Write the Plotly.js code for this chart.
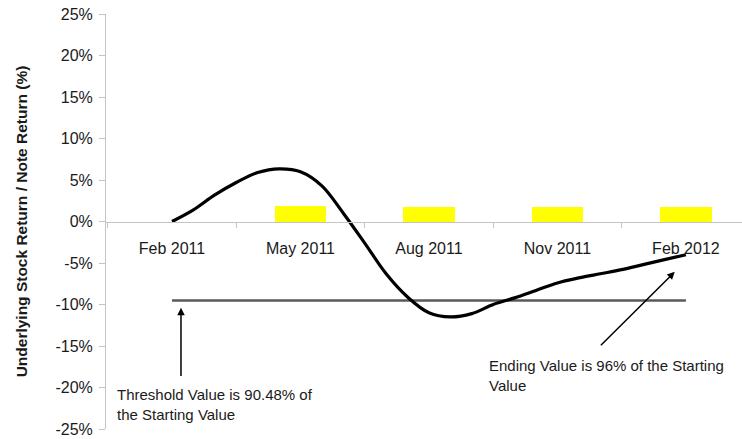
<!DOCTYPE html>
<html>
<head>
<meta charset="utf-8">
<script src="https://cdn.plot.ly/plotly-3.0.1.min.js"></script>
<style>html,body{margin:0;padding:0;background:#fff;}#chart{width:742px;height:439px;}</style>
</head>
<body>
<div id="chart"></div>
<script>
// Months since Feb 2011 (0 = Feb 2011, 12 = Feb 2012)
const categoryLabels = ["Feb 2011", "May 2011", "Aug 2011", "Nov 2011", "Feb 2012"];
const categoryMonths = [0, 3, 6, 9, 12];
const tickMarkMonths = [-1.5, 1.5, 4.5, 7.5, 10.5];

// Underlying stock return path (%)
const pathMonths = [0, 0.5, 1, 1.5, 2, 2.5, 3, 3.5, 4, 4.5, 5, 5.5, 6, 6.5, 7, 7.5, 8, 8.5, 9, 9.5, 10, 10.5, 11, 11.5, 12];
const pathReturns = [0, 1.4, 3.2, 4.7, 5.9, 6.35, 6.0, 4.3, 1.0, -2.6, -6.3, -9.1, -11.0, -11.5, -11.1, -10.0, -9.2, -8.3, -7.4, -6.8, -6.3, -5.8, -5.2, -4.6, -4.0];

// Yellow bars (quarterly observation markers, %)
const barMonths = [3, 6, 9, 12];
const barValues = [1.9, 1.75, 1.75, 1.75];

// Threshold line (90.48% of starting value)
const thresholdMonths = [0, 12];
const thresholdReturns = [-9.52, -9.52];

const yTickVals = [25, 20, 15, 10, 5, 0, -5, -10, -15, -20, -25];
const yTickText = ["25%", "20%", "15%", "10%", "5%", "0%", "-5%", "-10%", "-15%", "-20%", "-25%"];

const FONT = 'Arial, "Liberation Sans", sans-serif';
const TXT = '#1a1a1a';

const traces = [
  {
    type: 'bar', x: barMonths, y: barValues, width: 1.2,
    marker: {color: '#ffff00', line: {width: 0}}, hoverinfo: 'skip', showlegend: false
  },
  {
    type: 'scatter', mode: 'lines', x: thresholdMonths, y: thresholdReturns,
    line: {color: '#5a5a5a', width: 2.5}, hoverinfo: 'skip', showlegend: false
  },
  {
    type: 'scatter', mode: 'lines', x: pathMonths, y: pathReturns,
    line: {color: '#000000', width: 3.2, shape: 'spline', smoothing: 1.0},
    hoverinfo: 'skip', showlegend: false
  }
];

const layout = {
  width: 742, height: 439,
  margin: {l: 106, r: 0, t: 14, b: 10},
  paper_bgcolor: '#ffffff', plot_bgcolor: '#ffffff',
  font: {family: FONT, color: TXT, size: 16},
  showlegend: false,
  bargap: 0,
  xaxis: {
    range: [-1.541, 13.31],
    anchor: 'free', position: 0.5,
    showgrid: false, zeroline: false,
    showline: true, linecolor: '#c4c4c4', linewidth: 1,
    tickvals: categoryMonths, ticktext: categoryLabels,
    ticks: '', ticklabelstandoff: 12,
    tickfont: {family: FONT, size: 16, color: TXT},
    minor: {tickvals: tickMarkMonths, ticks: 'outside', ticklen: 5, tickcolor: '#c4c4c4', showgrid: false}
  },
  yaxis: {
    range: [-25, 25],
    showgrid: false, zeroline: false,
    showline: true, linecolor: '#c4c4c4', linewidth: 1,
    tickvals: yTickVals, ticktext: yTickText,
    ticks: 'outside', ticklen: 6, tickcolor: '#c4c4c4', ticklabelstandoff: 3,
    tickfont: {family: FONT, size: 16, color: TXT},
    title: {text: '<b>Underlying Stock Return / Note Return (%)</b>', font: {family: FONT, size: 15.5, color: TXT}, standoff: 24}
  },
  annotations: [
    {
      x: 0.21, y: -10.4, ax: 0.21, ay: -18.8, xref: 'x', yref: 'y', axref: 'x', ayref: 'y',
      text: '', showarrow: true, arrowhead: 2, arrowsize: 1, arrowwidth: 1.5, arrowcolor: '#000'
    },
    {
      x: 11.74, y: -6.06, ax: 9.98, ay: -15.1, xref: 'x', yref: 'y', axref: 'x', ayref: 'y',
      text: '', showarrow: true, arrowhead: 2, arrowsize: 1, arrowwidth: 1.5, arrowcolor: '#000'
    },
    {
      x: -1.33, y: -22.0, xref: 'x', yref: 'y', xanchor: 'left', yanchor: 'middle', align: 'left',
      text: 'Threshold Value is 90.48% of<br>the Starting Value', showarrow: false,
      font: {family: FONT, size: 15, color: TXT}
    },
    {
      x: 7.35, y: -18.5, xref: 'x', yref: 'y', xanchor: 'left', yanchor: 'middle', align: 'left',
      text: 'Ending Value is 96% of the Starting<br>Value', showarrow: false,
      font: {family: FONT, size: 15, color: TXT}
    }
  ]
};

Plotly.newPlot('chart', traces, layout, {staticPlot: true, displayModeBar: false});
</script>
</body>
</html>
